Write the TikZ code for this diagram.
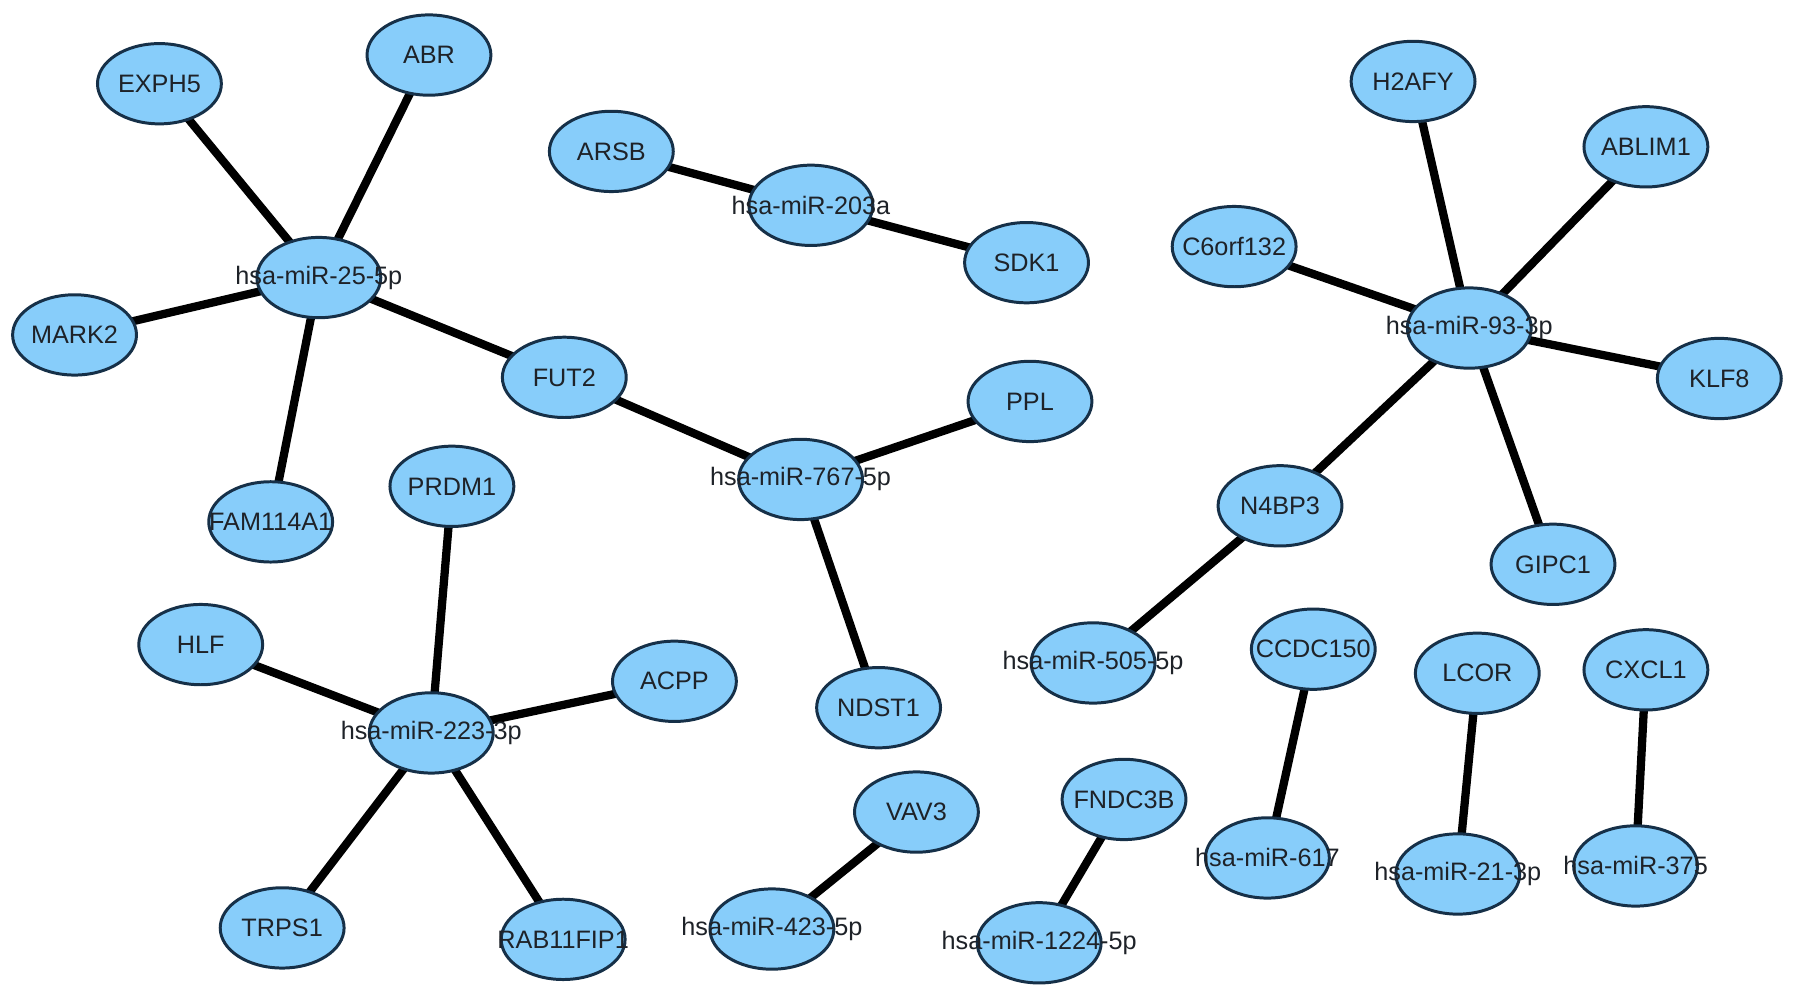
\documentclass[tikz,border=0pt]{standalone}
\usepackage{fontspec}
\setmainfont{Liberation Sans}
\usetikzlibrary{shapes.geometric}
\pgfdeclarelayer{backdrop}
\pgfdeclarelayer{edges}
\pgfsetlayers{backdrop,edges,main}
\definecolor{nodefill}{RGB}{135,205,250}
\definecolor{nodeline}{RGB}{22,48,72}
\definecolor{txtcol}{RGB}{30,34,40}
\begin{document}
\begin{tikzpicture}[x=1pt,y=-1pt,
 gene/.style={ellipse, draw=nodeline, line width=2.6pt, fill=nodefill,
   minimum width=108pt, minimum height=70pt, inner sep=0pt,
   label={[font=\fontsize{22}{26}\selectfont, text=txtcol, inner sep=0pt]center:#1}},
 link/.style={line width=7.2pt, draw=black}]
\begin{pgfonlayer}{backdrop}
\fill[white] (0,0) rectangle (1565,870);
\end{pgfonlayer}
\useasboundingbox (0,0) rectangle (1565,870);
% cluster miR-25-5p / miR-767-5p
\node[gene=EXPH5] (exph5) at (139,73) {};
\node[gene=ABR] (abr) at (374,48) {};
\node[gene=hsa-miR-25-5p] (m25) at (278,242) {};
\node[gene=MARK2] (mark2) at (65,292) {};
\node[gene=FAM114A1] (fam) at (236,455) {};
\node[gene=FUT2] (fut2) at (492,329) {};
\node[gene=hsa-miR-767-5p] (m767) at (698,418) {};
\node[gene=PPL] (ppl) at (898,350) {};
\node[gene=NDST1] (ndst1) at (766,617) {};
% miR-203a
\node[gene=ARSB] (arsb) at (533,132) {};
\node[gene=hsa-miR-203a] (m203) at (707,179) {};
\node[gene=SDK1] (sdk1) at (895,229) {};
% miR-223-3p
\node[gene=PRDM1] (prdm1) at (394,424) {};
\node[gene=HLF] (hlf) at (175,562) {};
\node[gene=ACPP] (acpp) at (588,594) {};
\node[gene=hsa-miR-223-3p] (m223) at (376,639) {};
\node[gene=TRPS1] (trps1) at (246,809) {};
\node[gene=RAB11FIP1] (rab) at (491,819) {};
% miR-423-5p, miR-1224-5p
\node[gene=VAV3] (vav3) at (799,708) {};
\node[gene=hsa-miR-423-5p] (m423) at (673,810) {};
\node[gene=FNDC3B] (fndc3b) at (980,697) {};
\node[gene=hsa-miR-1224-5p] (m1224) at (906,822) {};
% miR-93-3p / miR-505-5p
\node[gene=H2AFY] (h2afy) at (1232,71) {};
\node[gene=ABLIM1] (ablim1) at (1435,128) {};
\node[gene=C6orf132] (c6) at (1076,215) {};
\node[gene=hsa-miR-93-3p] (m93) at (1281,286) {};
\node[gene=KLF8] (klf8) at (1499,330) {};
\node[gene=N4BP3] (n4bp3) at (1116,441) {};
\node[gene=GIPC1] (gipc1) at (1354,492) {};
\node[gene=hsa-miR-505-5p] (m505) at (953,578) {};
% pairs
\node[gene=CCDC150] (ccdc) at (1145,566) {};
\node[gene=hsa-miR-617] (m617) at (1105,748) {};
\node[gene=LCOR] (lcor) at (1288,587) {};
\node[gene=hsa-miR-21-3p] (m21) at (1271,762) {};
\node[gene=CXCL1] (cxcl1) at (1435,584) {};
\node[gene=hsa-miR-375] (m375) at (1426,755) {};
\begin{pgfonlayer}{edges}
\foreach \a/\b in {m25/exph5, m25/abr, m25/mark2, m25/fam, m25/fut2,
  m767/fut2, m767/ppl, m767/ndst1, m203/arsb, m203/sdk1,
  m223/prdm1, m223/hlf, m223/acpp, m223/trps1, m223/rab,
  m423/vav3, m1224/fndc3b,
  m93/h2afy, m93/ablim1, m93/c6, m93/klf8, m93/n4bp3, m93/gipc1,
  m505/n4bp3, m617/ccdc, m21/lcor, m375/cxcl1}
  \draw[link] (\a.center) -- (\b.center);
\end{pgfonlayer}
\end{tikzpicture}
\end{document}
